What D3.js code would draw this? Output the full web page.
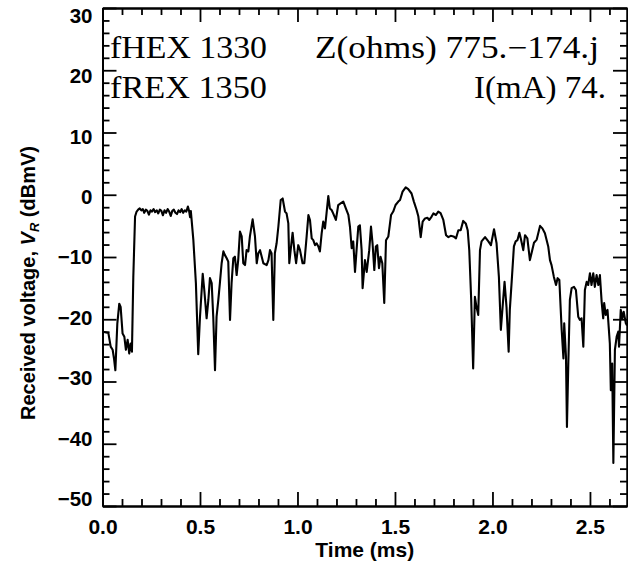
<!DOCTYPE html>
<html>
<head>
<meta charset="utf-8">
<script src="https://cdn.jsdelivr.net/npm/d3@7/dist/d3.min.js"></script>
<style>
html,body{margin:0;padding:0;background:#fff;}
svg{display:block;}
</style>
</head>
<body>
<svg id="chart" width="628" height="570"></svg>
<script>
// ---- data ----
const timeMs = [
0.004,0.030,0.042,0.052,0.059,0.066,0.076,0.086,0.093,0.103,0.112,0.120,0.129,0.137,0.144,0.151,0.158,0.167,0.175,
0.183,0.191,0.199,0.207,0.214,0.222,0.230,0.238,0.246,0.254,0.262,0.270,0.278,0.286,0.294,0.302,0.310,0.318,0.326,0.334,0.342,0.350,0.358,0.366,0.374,0.382,0.390,0.398,0.406,0.414,0.422,0.430,0.438,0.444,0.449,0.453,
0.457,0.466,0.479,0.491,0.500,0.514,0.522,0.534,0.543,0.551,0.560,0.568,0.577,0.585,0.594,0.602,0.611,0.620,0.628,0.637,0.645,0.654,0.662,0.671,0.679,0.688,0.696,0.705,0.714,0.722,0.731,0.739,0.748,0.756,0.770,0.782,0.791,0.799,0.808,
0.825,0.842,0.851,0.859,0.867,0.876,0.884,0.893,0.902,0.914,0.924,0.936,0.944,0.953,0.958,0.965,0.975,0.984,0.993,1.004,1.013,1.026,1.035,1.047,1.056,1.064,1.073,1.081,1.090,1.098,1.107,1.115,1.124,1.132,1.141,1.149,1.158,1.166,1.175,1.183,1.197,1.209,1.221,1.235,1.248,1.261,1.269,1.278,1.286,1.295,1.303,1.312,1.320,1.329,1.334,1.346,1.355,1.368,1.377,1.385,1.394,1.402,1.409,1.418,1.426,1.435,1.445,1.454,1.466,1.480,1.491,1.503,1.517,1.526,1.539,1.555,1.568,1.585,1.597,1.611,1.620,1.632,1.642,1.654,1.666,1.676,1.688,1.697,1.710,1.722,
1.734,1.748,1.762,1.774,1.786,1.800,1.813,1.825,1.837,1.850,1.863,1.873,1.881,1.891,1.901,1.910,1.918,1.927,1.936,1.944,1.962,1.979,1.992,2.008,2.021,2.033,2.043,2.052,2.062,2.072,2.083,2.089,2.098,2.110,2.119,2.128,2.138,2.145,2.158,2.167,2.179,2.192,2.204,2.213,2.227,2.244,2.256,2.269,2.286,2.295,2.303,2.315,2.326,2.334,2.343,2.355,2.364,2.368,2.377,2.382,2.389,2.397,2.406,2.418,2.428,2.440,2.448,2.457,2.466,2.474,2.483,2.491,2.500,2.508,2.517,2.525,2.534,2.543,2.551,2.560,2.568,2.573,2.581,2.590,2.602,2.607,2.614,2.620,2.628,2.637,2.645,2.649,2.658,2.666,2.673,2.684,2.690
];
const voltageDbmv = [
-22.0,-22.2,-24.4,-24.9,-26.3,-28.2,-20.7,-17.5,-18.0,-22.3,-22.8,-24.9,-23.3,-25.5,-23.9,-25.2,-13.2,-3.5,-2.7,
-2.4,-2.2,-2.5,-2.3,-2.9,-2.4,-2.6,-3.2,-2.5,-2.7,-2.3,-2.8,-2.5,-3.0,-2.4,-2.6,-3.3,-2.5,-2.9,-2.3,-2.7,-3.4,-2.6,-2.4,-2.9,-3.1,-2.5,-2.8,-2.3,-2.9,-2.5,-2.7,-1.9,-2.6,-3.6,-2.6,
-4.05,-7.3,-14.2,-25.6,-19.6,-12.7,-15.3,-19.85,-16.9,-13.4,-14.2,-19.6,-28.2,-19.6,-16.9,-14.2,-11.0,-9.1,-9.7,-10.2,-10.75,-20.1,-14.2,-10.2,-9.95,-12.9,-10.5,-5.9,-6.7,-11.0,-11.3,-8.9,-9.1,-6.7,-3.95,-6.7,-11.0,-9.4,-8.9,
-11.0,-11.3,-10.5,-8.9,-9.4,-20.1,-9.4,-7.8,-5.1,-0.84,-0.6,-2.7,-3.0,-4.6,-11.0,-8.9,-6.1,-8.9,-11.0,-8.1,-8.9,-11.0,-11.0,-6.7,-3.25,-4.05,-7.0,-7.3,-8.1,-7.8,-8.3,-9.1,-6.2,-4.3,-5.4,-3.0,-0.2,-2.2,-2.45,-3.0,-4.05,-1.65,-1.4,-1.1,-2.2,-3.25,-5.1,-8.6,-7.5,-12.4,-8.9,-5.1,-4.9,-8.9,-15.0,-10.5,-12.4,-8.9,-5.1,-7.8,-12.1,-8.3,-8.1,-11.8,-9.95,-11.0,-17.4,-7.3,-6.7,-3.25,-2.7,-1.65,-1.1,-0.84,0.5,1.2,0.9,0.2,-1.1,-2.45,-3.5,-6.8,-4.3,-3.8,-3.7,-4.05,-3.5,-3.0,-3.25,-2.7,
-2.95,-4.05,-6.5,-6.8,-6.6,-6.7,-7.0,-5.7,-5.7,-4.2,-4.6,-5.7,-8.9,-16.9,-27.9,-16.4,-18.0,-19.3,-8.9,-7.5,-6.8,-7.5,-8.1,-5.55,-7.8,-13.2,-21.7,-18.0,-14.0,-18.0,-25.2,-18.5,-14.2,-8.3,-7.5,-7.3,-6.1,-7.0,-8.9,-6.5,-7.0,-10.5,-8.9,-7.7,-7.2,-5.0,-5.4,-6.2,-8.3,-10.5,-11.3,-13.2,-14.5,-13.4,-13.7,-21.7,-26.3,-20.65,-26.0,-37.3,-27.1,-16.9,-15.0,-14.8,-15.3,-19.6,-20.1,-19.85,-24.4,-15.3,-14.0,-14.5,-12.6,-14.5,-12.6,-14.8,-12.9,-14.5,-12.9,-17.2,-19.85,-17.4,-19.3,-18.5,-23.9,-31.4,-27.1,-43.1,-24.9,-22.8,-22.0,-24.4,-18.5,-19.85,-18.8,-20.65,-21.0
];
const xMajorTicks = [0, 0.5, 1.0, 1.5, 2.0, 2.5];
const xMinorTicks = [0.1,0.2,0.3,0.4,0.6,0.7,0.8,0.9,1.1,1.2,1.3,1.4,1.6,1.7,1.8,1.9,2.1,2.2,2.3,2.4,2.6];
const yMajorTicks = [30, 20, 10, 0, -10, -20, -30, -40, -50];
const yMinorTicks = [28,26,24,22,18,16,14,12,8,6,4,2,-2,-4,-6,-8,-12,-14,-16,-18,-22,-24,-26,-28,-32,-34,-36,-38,-42,-44,-46,-48];
const xDomain = [0, 2.69];
const yDomain = [-50, 30];
const annotationTexts = ["fHEX 1330", "Z(ohms) 775.\u2212174.j", "fREX 1350", "I(mA) 74."];
const xTitle = "Time (ms)";

// ---- layout ----
const L = 102.5, R = 627, T = 8, B = 506;
const svg = d3.select("#chart");
const x = d3.scaleLinear().domain(xDomain).range([L, R]);
const y = d3.scaleLinear().domain(yDomain).range([B, T]);

const tickFont = "'Liberation Sans', Arial, Helvetica, sans-serif";
const majorLen = 14, minorLen = 7, axW = 2;

function styleAxis(g){
  g.selectAll("path.domain").attr("stroke","#000").attr("stroke-width",axW);
  g.selectAll(".tick line").attr("stroke","#000").attr("stroke-width",1.8);
}
[ [xMajorTicks, majorLen], [xMinorTicks, minorLen] ].forEach(([vals,len])=>{
  svg.append("g").attr("transform",`translate(0,${B})`)
    .call(d3.axisBottom(x).tickValues(vals).tickSizeInner(-len).tickSizeOuter(0).tickFormat(""))
    .call(styleAxis);
  svg.append("g").attr("transform",`translate(0,${T})`)
    .call(d3.axisTop(x).tickValues(vals).tickSizeInner(-len).tickSizeOuter(0).tickFormat(""))
    .call(styleAxis);
});
[ [yMajorTicks, majorLen], [yMinorTicks, minorLen] ].forEach(([vals,len])=>{
  svg.append("g").attr("transform",`translate(${L},0)`)
    .call(d3.axisLeft(y).tickValues(vals).tickSizeInner(-len).tickSizeOuter(0).tickFormat(""))
    .call(styleAxis);
  svg.append("g").attr("transform",`translate(${R},0)`)
    .call(d3.axisRight(y).tickValues(vals).tickSizeInner(-len).tickSizeOuter(0).tickFormat(""))
    .call(styleAxis);
});

// x tick labels
const xl = svg.append("g").attr("transform",`translate(0,${B})`)
  .call(d3.axisBottom(x).tickValues(xMajorTicks).tickSize(0).tickFormat(d3.format(".1f")));
xl.select("path.domain").remove();
xl.selectAll("text").attr("y",28).attr("dy",null)
  .attr("font-family",tickFont).attr("font-weight","bold").attr("font-size",21).attr("fill","#000");

// y tick labels (end labels pulled inside the axis range)
const labelCenter = v => 15 + (30 - v) / 80 * 483;
const yl = svg.append("g").attr("transform",`translate(${L},0)`)
  .call(d3.axisLeft(y).tickValues(yMajorTicks).tickSize(0).tickPadding(10).tickFormat(d3.format("d")));
yl.select("path.domain").remove();
yl.selectAll(".tick text").each(function(d){
  d3.select(this).attr("y", labelCenter(d) - y(d)).attr("dy","0.36em");
}).attr("font-family",tickFont).attr("font-weight","bold").attr("font-size",20.5).attr("fill","#000");

// line
const line = d3.line().x((d,i)=>x(timeMs[i])).y((d,i)=>y(voltageDbmv[i]));
svg.append("path").datum(voltageDbmv).attr("d",line)
  .attr("fill","none").attr("stroke","#000").attr("stroke-width",2.1).attr("stroke-linejoin","round");

// annotations
const annPos = [
  {x:110, y:58, w:157}, {x:315, y:58, w:284},
  {x:110, y:98, w:157}, {x:474, y:98, w:132}
];
annotationTexts.forEach((t,i)=>{
  const p = annPos[i];
  svg.append("text").attr("x", p.x).attr("y", p.y)
    .attr("font-family","'Liberation Serif','Times New Roman',serif")
    .attr("font-size",31).attr("fill","#000")
    .attr("textLength", p.w).attr("lengthAdjust","spacingAndGlyphs").text(t);
});

// axis titles
svg.append("text").attr("x",(L+R)/2).attr("y",557).attr("text-anchor","middle")
  .attr("font-family",tickFont).attr("font-weight","bold").attr("font-size",21).text(xTitle);

const yt = svg.append("text").attr("transform",`translate(35,283) rotate(-90)`)
  .attr("text-anchor","middle").attr("font-family",tickFont).attr("font-weight","bold").attr("font-size",20);
yt.append("tspan").text("Received voltage, ");
yt.append("tspan").attr("font-style","italic").text("V");
yt.append("tspan").attr("font-style","italic").attr("font-size",13).attr("dy",4).text("R");
yt.append("tspan").attr("dy",-4).text(" (dBmV)");
</script>
</body>
</html>
